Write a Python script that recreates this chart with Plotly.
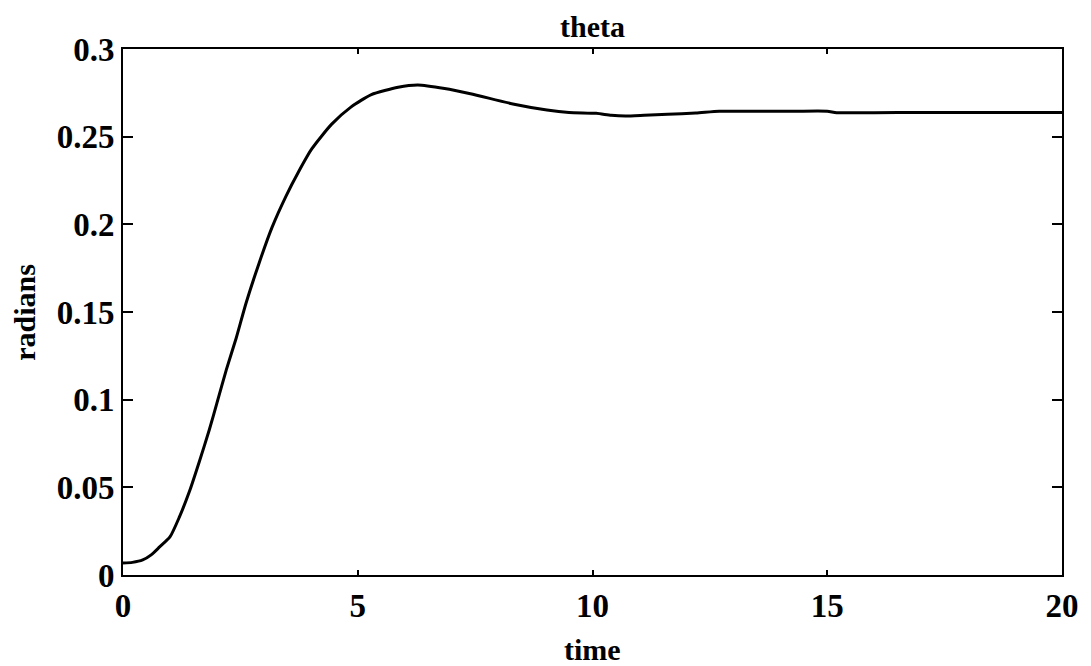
import plotly.graph_objects as go

# Pitch angle response sampled over the 20 s run
time = [0, 0.2, 0.42, 0.6, 0.78, 1.0, 1.2, 1.42, 1.63, 1.84, 2.0, 2.2, 2.41,
        2.62, 2.9, 3.17, 3.47, 3.74, 4.02, 4.44, 4.86, 5.29, 5.86, 6.28, 6.85,
        7.4, 8.33, 9.03, 9.5, 10.08, 10.4, 10.7, 11.1, 11.6, 12.2, 12.7, 13.5,
        14.3, 15.0, 15.2, 16, 17, 18, 19, 20]
theta = [0.0068, 0.0072, 0.0086, 0.0115, 0.016, 0.0217, 0.033, 0.048, 0.065,
         0.083, 0.098, 0.117, 0.135, 0.155, 0.178, 0.198, 0.216, 0.23, 0.243,
         0.257, 0.267, 0.274, 0.2782, 0.2795, 0.2775, 0.2745, 0.2685, 0.2652,
         0.2638, 0.2633, 0.2622, 0.2618, 0.2622, 0.2628, 0.2635, 0.2645,
         0.2645, 0.2645, 0.2645, 0.2637, 0.2637, 0.2638, 0.2638, 0.2638, 0.2638]

x_ticks = [0, 5, 10, 15, 20]
x_labels = ["0", "5", "10", "15", "20"]
y_ticks = [0, 0.05, 0.1, 0.15, 0.2, 0.25, 0.3]
y_labels = ["0", "0.05", "0.1", "0.15", "0.2", "0.25", "0.3"]

TITLE_FONT = dict(family="Liberation Serif", size=30, color="black", weight="bold")
TICK_FONT = dict(family="Liberation Serif", size=33, color="black", weight="bold")

fig = go.Figure()
fig.add_trace(go.Scatter(x=time, y=theta, mode="lines",
                         line=dict(color="black", width=3, shape="spline", smoothing=0.6),
                         hoverinfo="skip", showlegend=False))

axis_common = dict(showgrid=False, zeroline=False, showline=True, linecolor="black",
                   linewidth=2, mirror="ticks", ticks="inside", tickcolor="black",
                   tickwidth=2, tickfont=TICK_FONT)

fig.update_xaxes(range=[0, 20], tickvals=x_ticks, ticktext=x_labels, ticklen=5,
                 **axis_common)
fig.update_yaxes(range=[0, 0.3], tickvals=y_ticks, ticktext=y_labels, ticklen=10,
                 **axis_common)

fig.update_layout(
    width=1091, height=666,
    margin=dict(l=123, r=22, t=49, b=91),
    plot_bgcolor="white", paper_bgcolor="white",
    annotations=[
        dict(text="theta", xref="paper", yref="paper", x=0.5, y=1 + 22 / 526,
             showarrow=False, font=TITLE_FONT, xanchor="center", yanchor="middle"),
        dict(text="time", xref="paper", yref="paper", x=0.5, y=-74 / 526,
             showarrow=False, font=TITLE_FONT, xanchor="center", yanchor="middle"),
        dict(text="radians", xref="paper", yref="paper", x=-100 / 946, y=0.5,
             showarrow=False, font=TITLE_FONT, textangle=-90,
             xanchor="center", yanchor="middle"),
    ],
)

fig.write_html("out.html")
